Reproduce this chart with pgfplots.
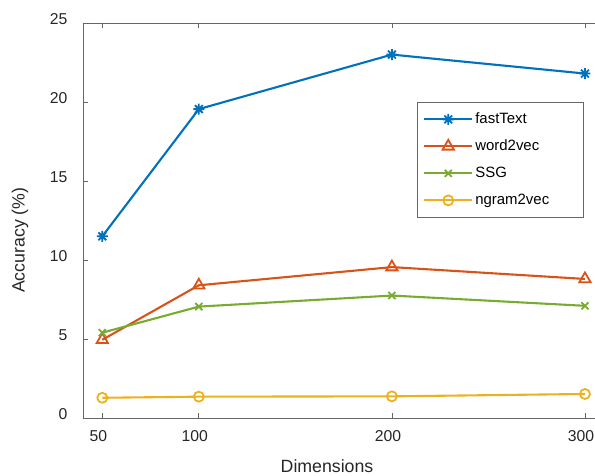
\documentclass[border=0pt]{standalone}
\usepackage{fontspec}
\setmainfont{Liberation Sans}
\usepackage{pgfplots}
\pgfplotsset{compat=1.18}
\definecolor{mblue}{rgb}{0,0.447,0.741}
\definecolor{morange}{rgb}{0.85,0.325,0.098}
\definecolor{mgreen}{rgb}{0.466,0.674,0.188}
\definecolor{myellow}{rgb}{0.929,0.694,0.125}
\definecolor{axgray}{rgb}{0.4,0.4,0.4}
\pgfdeclareplotmark{mstar}{%
 \pgfpathmoveto{\pgfqpoint{-\pgfplotmarksize}{0pt}}\pgfpathlineto{\pgfqpoint{\pgfplotmarksize}{0pt}}%
 \pgfpathmoveto{\pgfqpoint{0pt}{-\pgfplotmarksize}}\pgfpathlineto{\pgfqpoint{0pt}{\pgfplotmarksize}}%
 \pgfpathmoveto{\pgfqpoint{-0.707\pgfplotmarksize}{-0.707\pgfplotmarksize}}\pgfpathlineto{\pgfqpoint{0.707\pgfplotmarksize}{0.707\pgfplotmarksize}}%
 \pgfpathmoveto{\pgfqpoint{-0.707\pgfplotmarksize}{0.707\pgfplotmarksize}}\pgfpathlineto{\pgfqpoint{0.707\pgfplotmarksize}{-0.707\pgfplotmarksize}}%
 \pgfusepathqstroke}
\begin{document}
\begin{tikzpicture}
\begin{axis}[
  scale only axis,
  width=512bp, height=395bp,
  xmin=40, xmax=305.2, ymin=0, ymax=25,
  axis x line*=box, axis y line*=left,
  axis line style={axgray, line width=0.8bp},
  xtick={50,100,200,300}, ytick={0,5,10,15,20,25},
  tick align=inside,
  major tick length=5bp,
  tick style={axgray, line width=0.8bp},
  /pgf/number format/assume math mode=true,
  tick label style={font=\fontsize{15.8}{18}\selectfont, text=black!85},
  yticklabel style={xshift=-12bp, yshift=4bp},
  xticklabel style={yshift=-9bp, xshift=-4bp},
  xlabel={Dimensions}, ylabel={Accuracy (\%)},
  label style={font=\fontsize{17.8}{20}\selectfont, text=black!85},
  xlabel style={at={(axis description cs:0.4766,-0.139)}, anchor=base},
  ylabel style={at={(axis description cs:-0.123,0.45)}, anchor=center, rotate=0},
  legend cell align=left,
  legend image code/.code={\draw[mark repeat=2,mark phase=2,#1] plot coordinates {(0bp,0bp)(24bp,0bp)(48bp,0bp)};},
  legend style={at={(axis description cs:0.652,0.8)}, anchor=north west,
    draw=axgray, line width=0.8bp, fill=white,
    font=\fontsize{15}{17}\selectfont,
    inner xsep=6bp, inner ysep=8bp,
    row sep=9bp,
    nodes={text height=11bp, text depth=3bp, inner sep=2bp}},
  every axis plot/.append style={line width=2.1bp},
]
\addplot[mblue, mark=mstar, mark size=5.5bp, mark options={line width=1.8bp}] coordinates {(50,11.5) (100,19.55) (200,23.0) (300,21.8)};
\addlegendentry{\makebox[100bp][l]{fastText}}
\addplot[morange, mark=triangle, mark size=6.5bp, mark options={line width=1.8bp}] coordinates {(50,4.95) (100,8.4) (200,9.55) (300,8.8)};
\addlegendentry{\makebox[100bp][l]{word2vec}}
\addplot[mgreen, mark=x, mark size=5bp, mark options={line width=1.8bp}] coordinates {(50,5.4) (100,7.05) (200,7.75) (300,7.1)};
\addlegendentry{\makebox[100bp][l]{SSG}}
\addplot[myellow, mark=o, mark size=5bp, mark options={line width=1.8bp}] coordinates {(50,1.28) (100,1.35) (200,1.37) (300,1.52)};
\addlegendentry{\makebox[100bp][l]{ngram2vec}}
\end{axis}
\pgfresetboundingbox
\path[use as bounding box] (-83bp,-58bp) rectangle (512bp,418bp);
\end{tikzpicture}
\end{document}
